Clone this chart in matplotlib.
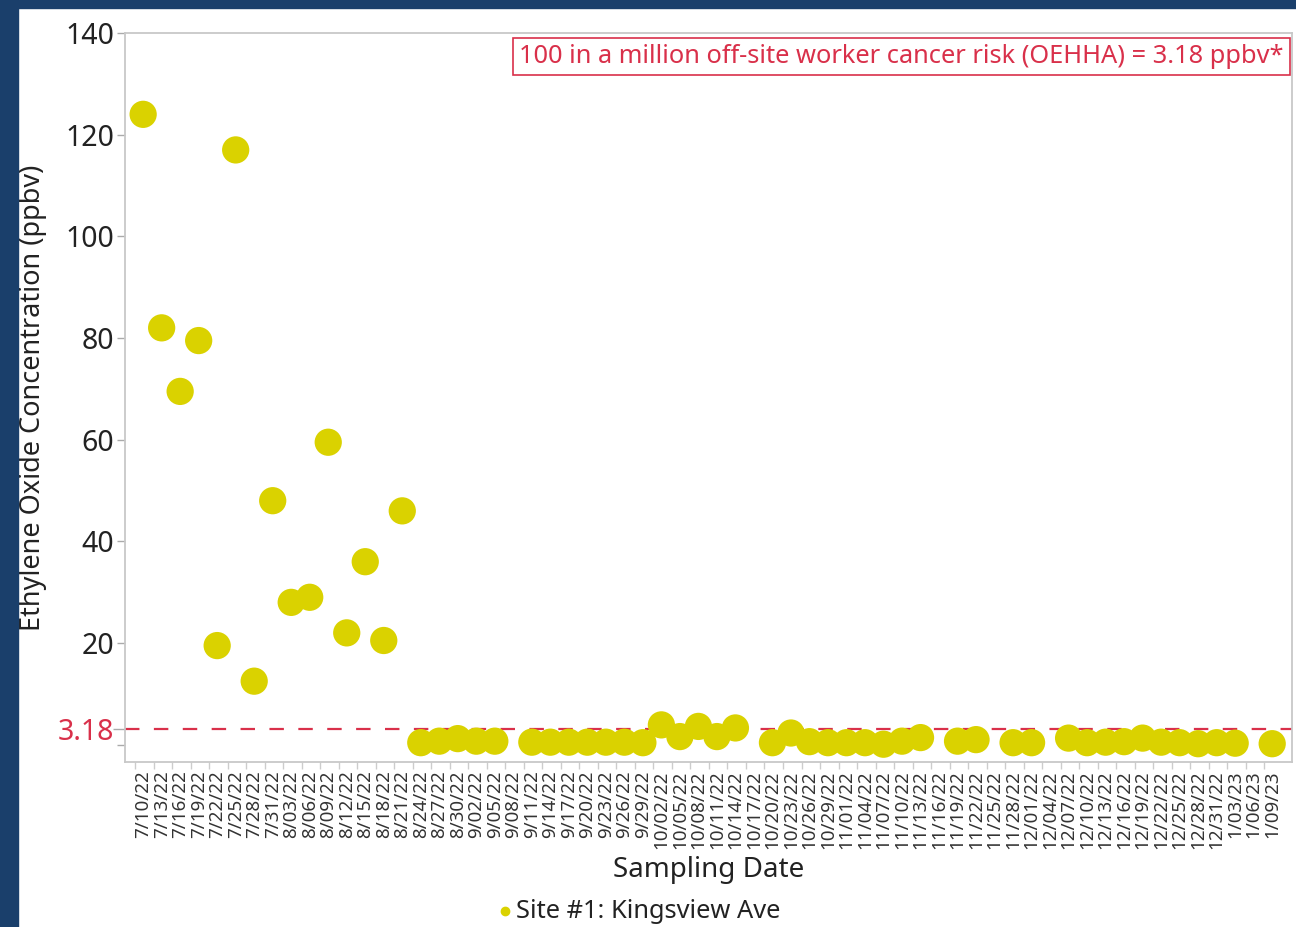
import numpy as np
import matplotlib
matplotlib.use("Agg")
import matplotlib.pyplot as plt
from matplotlib.patches import Rectangle
from matplotlib.lines import Line2D

plt.rcParams['font.family'] = ['Noto Sans', 'DejaVu Sans']

dates = ["7/10/22", "7/13/22", "7/16/22", "7/19/22", "7/22/22", "7/25/22", "7/28/22", "7/31/22",
         "8/03/22", "8/06/22", "8/09/22", "8/12/22", "8/15/22", "8/18/22", "8/21/22", "8/24/22",
         "8/27/22", "8/30/22", "9/02/22", "9/05/22", "9/08/22", "9/11/22", "9/14/22", "9/17/22",
         "9/20/22", "9/23/22", "9/26/22", "9/29/22", "10/02/22", "10/05/22", "10/08/22", "10/11/22",
         "10/14/22", "10/17/22", "10/20/22", "10/23/22", "10/26/22", "10/29/22", "11/01/22", "11/04/22",
         "11/07/22", "11/10/22", "11/13/22", "11/16/22", "11/19/22", "11/22/22", "11/25/22", "11/28/22",
         "12/01/22", "12/04/22", "12/07/22", "12/10/22", "12/13/22", "12/16/22", "12/19/22", "12/22/22",
         "12/25/22", "12/28/22", "12/31/22", "1/03/23", "1/06/23", "1/09/23"]

nan = np.nan
values = [124, 82, 69.5, 79.5, 19.5, 117, 12.5, 48,
          28, 29, 59.5, 22, 36, 20.5, 46, 0.4,
          0.7, 1.2, 0.7, 0.7, nan, 0.5, 0.5, 0.5,
          0.5, 0.5, 0.5, 0.4, 3.9, 1.6, 3.6, 1.6,
          3.3, nan, 0.4, 2.3, 0.6, 0.4, 0.4, 0.4,
          0.1, 0.7, 1.4, nan, 0.7, 1.0, nan, 0.4,
          0.4, nan, 1.3, 0.4, 0.5, 0.6, 1.3, 0.5,
          0.4, 0.2, 0.4, 0.3, nan, 0.2]

threshold = 3.18
yticks = [0, 3.18, 20, 40, 60, 80, 100, 120, 140]
yticklabels = ["", "3.18", "20", "40", "60", "80", "100", "120", "140"]
annotation = "100 in a million off-site worker cancer risk (OEHHA) = 3.18 ppbv*"
series_name = "Site #1: Kingsview Ave"

W, H = 1296, 927
fig = plt.figure(figsize=(W / 100, H / 100), dpi=100)
fig.patch.set_facecolor("white")

navy = "#1a3f6b"
fig.patches.append(Rectangle((0, 0), 18 / W, 1, transform=fig.transFigure, color=navy, zorder=0))
fig.patches.append(Rectangle((0, 1 - 8 / H), 1, 8 / H, transform=fig.transFigure, color=navy, zorder=0))

ax = fig.add_axes([125 / W, 1 - 762 / H, (1292 - 125) / W, (762 - 33) / H])

yellow = "#dad200"
red = "#d9304a"
gray = "#c8c8c8"

x = np.arange(len(dates))
vals = np.array(values, dtype=float)
ax.scatter(x, vals, s=385, color=yellow, edgecolors="none", zorder=3)
ax.axhline(threshold, color=red, lw=1.6, linestyle=(0, (6.5, 6.5)), zorder=2)

ax.set_xlim(-0.98, 62.07)
ax.set_ylim(-3.4, 140)

ax.set_yticks(yticks)
ax.set_yticklabels(yticklabels, fontsize=20.5, color="#222222")
for lbl, v in zip(ax.get_yticklabels(), yticks):
    if v == threshold:
        lbl.set_color(red)
ax.tick_params(axis="y", length=6, width=1, color="#aaaaaa", pad=2)
for t, v in zip(ax.yaxis.get_major_ticks(), yticks):
    if v == threshold:
        t.tick1line.set_color(red)
        t.tick1line.set_markersize(9)

ax.set_xticks(x)
ax.set_xticklabels(dates, rotation=90, fontsize=13.5, color="#333333")
ax.tick_params(axis="x", length=0, pad=6)
ax.set_xticks(x - 0.43, minor=True)
ax.tick_params(axis="x", which="minor", length=5, width=1, color="#cccccc")

for sp in ax.spines.values():
    sp.set_color(gray)
    sp.set_linewidth(1.3)

ax.set_ylabel("Ethylene Oxide Concentration (ppbv)", fontsize=19.5, color="#222222")
ax.yaxis.set_label_coords((47 - 125) / 1167, 0.5)

ax.text((1283.5 - 125) / 1167, (762 - 44) / 729, annotation, transform=ax.transAxes,
        ha="right", va="top", fontsize=18.3, color=red,
        bbox=dict(boxstyle="square,pad=0.25", facecolor="white", edgecolor=red, linewidth=1.2),
        zorder=5)

fig.text(709 / W, 1 - 870 / H, "Sampling Date", ha="center", va="center", fontsize=20, color="#222222")

fig.lines.append(Line2D([505 / W], [1 - 911 / H], marker="o", markersize=6, color=yellow,
                        linestyle="none", transform=fig.transFigure))
fig.text(516 / W, 1 - 912 / H, series_name, ha="left", va="center", fontsize=18.3, color="#222222")

fig.savefig("out.png", dpi=100)
